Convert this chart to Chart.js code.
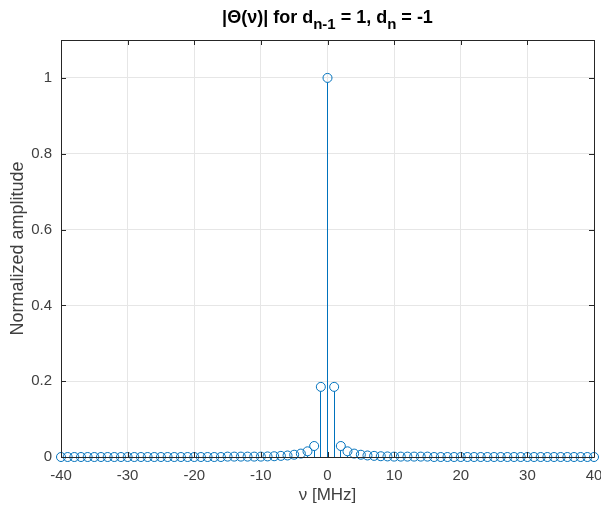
<!DOCTYPE html>
<html>
<head>
<meta charset="utf-8">
<script src="https://cdn.jsdelivr.net/npm/chart.js@4/dist/chart.umd.min.js"></script>
<style>
  html, body { margin: 0; padding: 0; background: #fff; }
  canvas { display: block; }
</style>
</head>
<body>
<canvas id="chart" width="601" height="511"></canvas>
<script>
// frequency bins (MHz)
var freqs = [-40, -39, -38, -37, -36, -35, -34, -33, -32, -31,
             -30, -29, -28, -27, -26, -25, -24, -23, -22, -21,
             -20, -19, -18, -17, -16, -15, -14, -13, -12, -11,
             -10, -9, -8, -7, -6, -5, -4, -3, -2, -1,
             0,
             1, 2, 3, 4, 5, 6, 7, 8, 9, 10,
             11, 12, 13, 14, 15, 16, 17, 18, 19, 20,
             21, 22, 23, 24, 25, 26, 27, 28, 29, 30,
             31, 32, 33, 34, 35, 36, 37, 38, 39, 40];
// normalized amplitude
var amps = [0, 0, 0, 0, 0, 0, 0, 0, 0, 0,
            0, 0, 0, 0, 0, 0, 0, 0, 0, 0,
            0, 0, 0, 0, 0, 0.001, 0.001, 0.001, 0.001, 0.001,
            0.001, 0.0015, 0.002, 0.003, 0.004, 0.006, 0.009, 0.015, 0.029, 0.185,
            1,
            0.185, 0.029, 0.015, 0.009, 0.006, 0.004, 0.003, 0.002, 0.0015, 0.001,
            0.001, 0.001, 0.001, 0.001, 0.001, 0, 0, 0, 0, 0,
            0, 0, 0, 0, 0, 0, 0, 0, 0, 0,
            0, 0, 0, 0, 0, 0, 0, 0, 0, 0];
var xTicks = [-40, -30, -20, -10, 0, 10, 20, 30, 40];
var yTicks = [0, 0.2, 0.4, 0.6, 0.8, 1];
var yTickLabels = ['0', '0.2', '0.4', '0.6', '0.8', '1'];

var stemColor = '#0072BD';
var axisColor = '#262626';
var labelColor = '#404040';
var markerR = 4.5;
var fontFam = '"Liberation Sans", Arial, sans-serif';

var points = freqs.map(function(f, i) { return {x: f, y: amps[i]}; });

// stems drawn under the markers
var stemPlugin = {
  id: 'stems',
  beforeDatasetsDraw: function(chart) {
    var ctx = chart.ctx;
    var ys = chart.scales.y;
    var y0 = ys.getPixelForValue(0);
    var meta = chart.getDatasetMeta(0);
    ctx.save();
    ctx.strokeStyle = stemColor;
    ctx.lineWidth = 1;
    meta.data.forEach(function(pt) {
      if (y0 - pt.y <= markerR) return;
      var px = Math.floor(pt.x) + 0.5;
      ctx.beginPath();
      ctx.moveTo(px, y0);
      ctx.lineTo(px, pt.y + markerR);
      ctx.stroke();
    });
    ctx.restore();
  }
};

// matlab style box, inward ticks and the subscripted title
var boxPlugin = {
  id: 'box',
  afterDraw: function(chart) {
    var ctx = chart.ctx;
    var a = chart.chartArea;
    var xs = chart.scales.x, ys = chart.scales.y;
    ctx.save();
    ctx.strokeStyle = axisColor;
    ctx.lineWidth = 1;
    ctx.beginPath();
    ctx.moveTo(a.left + 0.5, a.bottom + 0.5);
    ctx.lineTo(a.left + 0.5, a.top + 0.5);
    ctx.lineTo(a.right + 0.5, a.top + 0.5);
    ctx.lineTo(a.right + 0.5, a.bottom + 0.5);
    ctx.lineTo(a.left + 0.5, a.bottom + 0.5);
    ctx.stroke();
    var tl = 5;
    xTicks.forEach(function(v) {
      var px = Math.round(xs.getPixelForValue(v)) + 0.5;
      ctx.beginPath();
      ctx.moveTo(px, a.bottom); ctx.lineTo(px, a.bottom - tl);
      ctx.moveTo(px, a.top); ctx.lineTo(px, a.top + tl);
      ctx.stroke();
    });
    yTicks.forEach(function(v) {
      var py = Math.round(ys.getPixelForValue(v)) + 0.5;
      ctx.beginPath();
      ctx.moveTo(a.left, py); ctx.lineTo(a.left + tl, py);
      ctx.moveTo(a.right, py); ctx.lineTo(a.right - tl, py);
      ctx.stroke();
    });

    // title: |Θ(ν)| for d_{n-1} = 1, d_n = -1
    var parts = [
      ['|\u0398(\u03BD)| for d', false],
      ['n-1', true],
      [' = 1, d', false],
      ['n', true],
      [' = -1', false]
    ];
    var big = 'bold 18px ' + fontFam;
    var small = 'bold 15px ' + fontFam;
    var total = 0;
    parts.forEach(function(p) {
      ctx.font = p[1] ? small : big;
      total += ctx.measureText(p[0]).width;
    });
    var x = (a.left + a.right) / 2 - total / 2;
    var base = 23;
    ctx.fillStyle = '#000';
    ctx.textBaseline = 'alphabetic';
    ctx.textAlign = 'left';
    parts.forEach(function(p) {
      ctx.font = p[1] ? small : big;
      ctx.fillText(p[0], x, p[1] ? base + 6 : base);
      x += ctx.measureText(p[0]).width;
    });
    ctx.restore();
  }
};

new Chart(document.getElementById('chart').getContext('2d'), {
  type: 'scatter',
  data: {
    datasets: [{
      data: points,
      showLine: false,
      pointStyle: 'circle',
      pointRadius: markerR,
      pointHoverRadius: markerR,
      borderColor: stemColor,
      backgroundColor: 'rgba(0,0,0,0)',
      borderWidth: 1,
      clip: false
    }]
  },
  options: {
    responsive: false,
    animation: false,
    events: [],
    layout: { padding: { top: 40, right: 7, left: 0, bottom: 0 } },
    plugins: {
      legend: { display: false },
      tooltip: { enabled: false },
      title: { display: false }
    },
    scales: {
      x: {
        type: 'linear',
        min: -40,
        max: 40,
        afterBuildTicks: function(s) { s.ticks = xTicks.map(function(v) { return {value: v}; }); },
        afterFit: function(s) { s.height = 54; s.paddingLeft = 0; s.paddingRight = 0; },
        ticks: {
          color: labelColor,
          padding: 10,
          maxRotation: 0,
          font: { family: fontFam, size: 15 },
          callback: function(v) { return String(v); }
        },
        grid: { color: '#e6e6e6', drawTicks: false },
        border: { display: false },
        title: {
          display: true,
          text: '\u03BD [MHz]',
          color: labelColor,
          padding: { top: 2, bottom: 5 },
          font: { family: fontFam, size: 17 }
        }
      },
      y: {
        type: 'linear',
        min: 0,
        max: 1.1,
        afterBuildTicks: function(s) { s.ticks = yTicks.map(function(v) { return {value: v}; }); },
        afterFit: function(s) { s.width = 61; s.paddingTop = 0; s.paddingBottom = 0; },
        ticks: {
          color: labelColor,
          padding: 9,
          font: { family: fontFam, size: 15 },
          callback: function(v, i) { return yTickLabels[i]; }
        },
        grid: { color: '#e6e6e6', drawTicks: false },
        border: { display: false },
        title: {
          display: true,
          text: 'Normalized amplitude',
          color: labelColor,
          padding: { top: 7, bottom: 0 },
          font: { family: fontFam, size: 18 }
        }
      }
    }
  },
  plugins: [stemPlugin, boxPlugin]
});
</script>
</body>
</html>
